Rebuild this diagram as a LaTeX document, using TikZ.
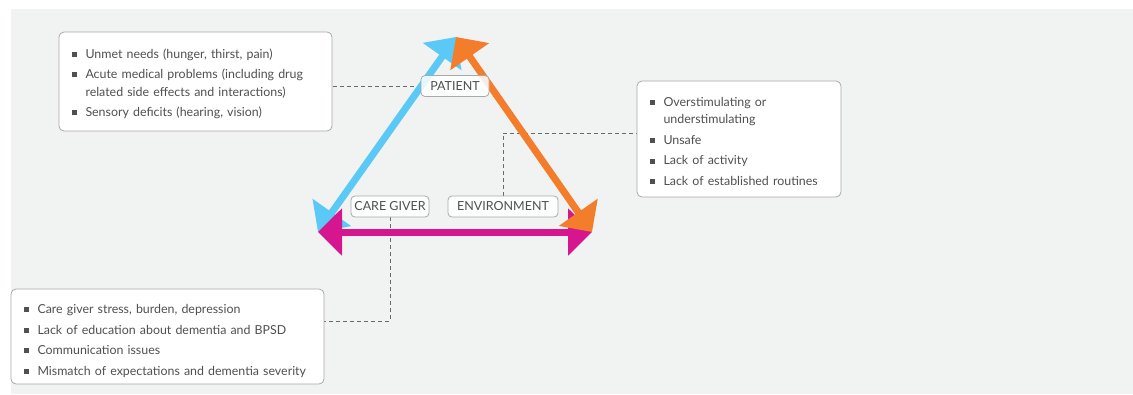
\documentclass[tikz,border=0pt]{standalone}
\usepackage{fontspec}
\setmainfont{Lato}
\usetikzlibrary{arrows.meta,backgrounds}

\definecolor{bggray}{HTML}{F1F2F2}
\definecolor{boxgray}{HTML}{A9A9A9}
\definecolor{txtgray}{HTML}{505050}
\definecolor{linkgray}{HTML}{6A6A6A}
\definecolor{skyblue}{HTML}{5BC9F6}
\definecolor{tanorange}{HTML}{F47D2B}
\definecolor{hotpink}{HTML}{D6168E}

% square bullet and indent for wrapped lines
\newcommand{\sqbul}{\makebox[14pt][l]{\textcolor{txtgray}{\rule[1.3pt]{5pt}{5pt}}}}
\newcommand{\sqind}{\hspace*{14pt}}
\hyphenpenalty=10000

\begin{document}
\begin{tikzpicture}[
    x=1pt, y=-1pt,
    >={Triangle[length=24pt,width=46pt]},
    , infobox/.style = {draw=boxgray,fill=white,line width=0.8pt,rounded corners=5pt,
        inner xsep=12.5pt,inner ysep=0pt,align=left,text=txtgray,
        font=\fontsize{12.4}{17.5}\selectfont}
    , tag/.style = {draw=boxgray,fill=white,fill opacity=0.85,text opacity=1,line width=0.8pt,
        rounded corners=4pt,minimum height=21pt,inner xsep=0pt,inner ysep=0pt,text=txtgray,
        font=\fontsize{12.5}{14}\selectfont}
    , link/.style = {draw=linkgray,line width=0.7pt,dash pattern=on 4pt off 3pt}
    , side/.style = {line width=7pt,<->}
]
\useasboundingbox (0,0) rectangle (1133,394);

% corners of the triangle
\coordinate (apex) at (456,37);
\coordinate (cgv) at (318,232);
\coordinate (envv) at (592,232);

% triangle sides
\draw[side,draw=skyblue,fill=skyblue] (apex) -- (cgv);
\draw[side,draw=hotpink,fill=hotpink] (cgv) -- (envv);
\draw[side,draw=tanorange,fill=tanorange] (apex) -- (envv);

% labels on the corners
\node[tag,minimum width=68pt] (patient) at (455,86) {PATIENT};
\node[tag,minimum width=78pt] (caregiver) at (390,206.5) {CARE GIVER};
\node[tag,minimum width=110pt] (environment) at (503,206.5) {ENVIRONMENT};

% factor boxes
\node[infobox,text width=248pt,minimum height=99pt] (patbox) at (195.5,81.5) {%
    \rule{0pt}{14pt}\sqbul Unmet needs (hunger, thirst, pain)\\[3pt]
    \sqbul Acute medical problems (including drug\\
    \sqind related side effects and interactions)\\[3pt]
    \sqbul Sensory deficits (hearing, vision)};
\node[infobox,text width=179pt,minimum height=116pt] (envbox) at (739,139) {%
    \rule{0pt}{14pt}\sqbul Overstimulating or\\
    \sqind understimulating\\[3pt]
    \sqbul Unsafe\\[3pt]
    \sqbul Lack of activity\\[3pt]
    \sqbul Lack of established routines};
\node[infobox,text width=288pt,minimum height=95pt] (cgbox) at (167.5,336.5) {%
    \rule{0pt}{18pt}\sqbul Care giver stress, burden, depression\\[3pt]
    \sqbul Lack of education about dementia and BPSD\\[3pt]
    \sqbul Communication issues\\[3pt]
    \sqbul Mismatch of expectations and dementia severity};

\begin{scope}[on background layer]
\fill[bggray] (11,9) rectangle (1133,394);
\draw[link] (patient.west) -- (patient.west -| patbox.east);
\draw[link] (environment.north) |- ([yshift=6pt]envbox.west);
\draw[link] (caregiver.south) |- ([yshift=15.5pt]cgbox.east);
\end{scope}
\end{tikzpicture}
\end{document}
